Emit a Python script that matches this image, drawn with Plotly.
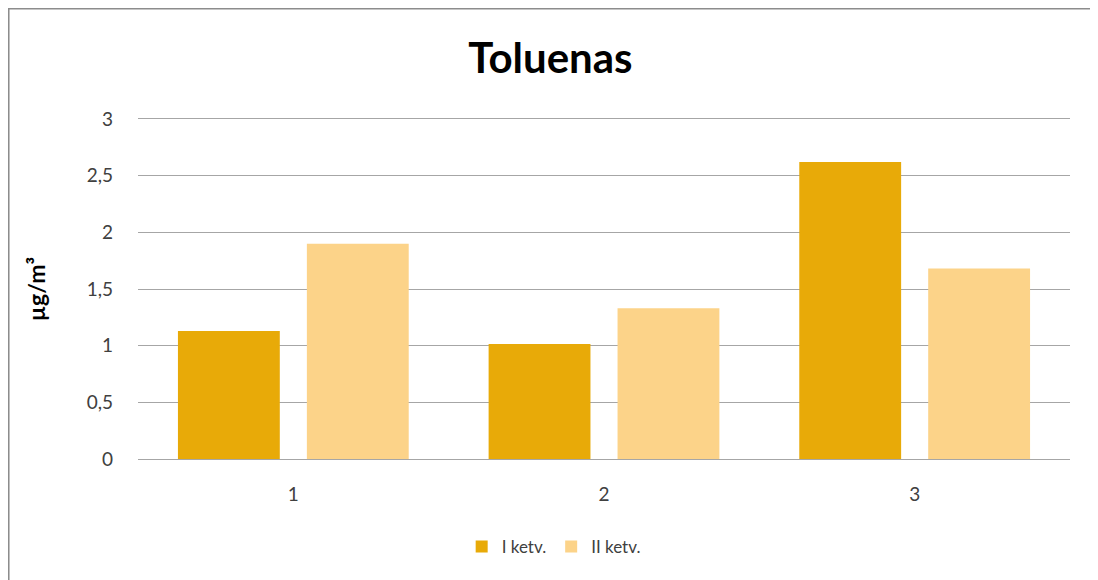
import plotly.graph_objects as go

categories = ["1", "2", "3"]
series_names = ["I ketv.", "II ketv."]
values_q1 = [1.13, 1.015, 2.62]
values_q2 = [1.90, 1.33, 1.68]
y_ticks = [0, 0.5, 1, 1.5, 2, 2.5, 3]

colors = ["#E8AA08", "#FCD389"]

FONT = "Lato, Open Sans, Liberation Sans, sans-serif"

fig = go.Figure()
fig.add_trace(go.Bar(x=categories, y=values_q1, name=series_names[0],
                     marker=dict(color=colors[0], line=dict(width=0))))
fig.add_trace(go.Bar(x=categories, y=values_q2, name=series_names[1],
                     marker=dict(color=colors[1], line=dict(width=0))))

fig.update_layout(
    width=1098, height=580,
    margin=dict(l=130, r=36, t=111, b=129),
    paper_bgcolor="white", plot_bgcolor="white",
    separators=", ",
    barmode="group", bargap=0.17, bargroupgap=0.21,
    font=dict(family=FONT, color="#404040"),
    title=dict(text="<b>Toluenas</b>", x=0.494, xanchor="center", y=0.914, yanchor="middle",
               font=dict(size=42, color="#000000", family=FONT)),
    legend=dict(orientation="h", x=0.446, xanchor="center", y=-0.259, yanchor="middle",
                font=dict(size=17, color="#404040"), itemwidth=30, traceorder="normal"),
    showlegend=True,
    xaxis=dict(type="category", showgrid=False, showline=True, mirror=True,
               linecolor="#A6A6A6", linewidth=1, ticks="",
               ticklabelstandoff=18,
               tickfont=dict(size=19, color="#404040")),
    yaxis=dict(range=[0, 3], tickvals=y_ticks, showgrid=True, gridcolor="#A6A6A6",
               gridwidth=1, zeroline=True, zerolinecolor="#A6A6A6", zerolinewidth=1,
               showline=False, ticks="", ticklabelstandoff=24,
               tickfont=dict(size=19, color="#404040"),
               title=dict(text="<b>µg/m³</b>", standoff=34,
                          font=dict(size=23, color="#000000"))),
    shapes=[dict(type="rect", xref="paper", yref="paper",
                 x0=-0.1389, x1=1.08, y0=-0.6, y1=1.325,
                 line=dict(color="#8C8C8C", width=2), layer="below")],
)

fig.write_html("out.html")
